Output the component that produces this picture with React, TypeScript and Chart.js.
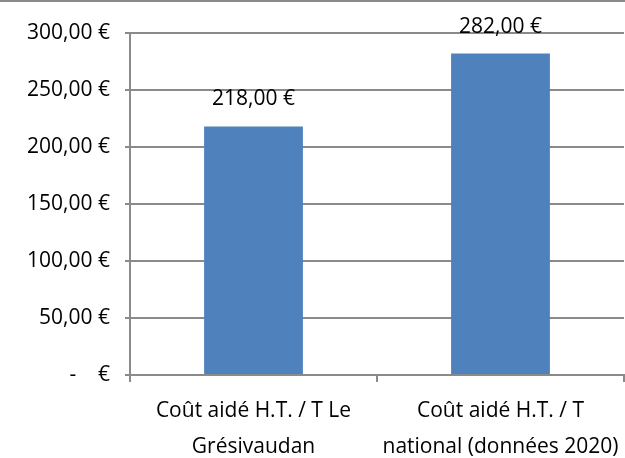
import React, { useEffect, useRef } from "react";
import { Chart, registerables } from "chart.js";

Chart.register(...registerables);

const categories: string[][] = [
  ["Coût aidé H.T. / T Le", "Grésivaudan"],
  ["Coût aidé H.T. / T", "national (données 2020)"],
];
const values: number[] = [218, 282];
const yTicks: number[] = [0, 50, 100, 150, 200, 250, 300];

const FONT = "'Open Sans', sans-serif";

const fmt = (v: number) =>
  v === 0 ? "-    €" : v.toFixed(2).replace(".", ",") + " €";

const extras = {
  id: "extras",
  afterDraw(chart: any) {
    const ctx = chart.ctx;
    ctx.save();
    ctx.strokeStyle = "#8a8a8a";
    ctx.lineWidth = 2;
    ctx.beginPath();
    ctx.moveTo(0, 1);
    ctx.lineTo(chart.width, 1);
    ctx.stroke();
    const meta = chart.getDatasetMeta(0);
    ctx.fillStyle = "#000";
    ctx.font = `21px ${FONT}`;
    ctx.textAlign = "center";
    ctx.textBaseline = "middle";
    meta.data.forEach((bar: any, i: number) => {
      ctx.fillText(fmt(values[i]), bar.x, bar.y - 27);
    });
    ctx.restore();
  },
};

export default function App() {
  const ref = useRef<HTMLCanvasElement>(null);
  useEffect(() => {
    document.body.style.margin = "0";
    const chart = new Chart(ref.current!, {
      type: "bar",
      data: {
        labels: categories,
        datasets: [
          {
            data: values,
            backgroundColor: "#4F81BD",
            categoryPercentage: 1,
            barPercentage: 0.4,
          },
        ],
      },
      options: {
        animation: false,
        responsive: false,
        layout: { padding: { top: 33, right: 1, left: 0, bottom: 0 } },
        plugins: { legend: { display: false }, tooltip: { enabled: false } },
        scales: {
          x: {
            afterFit: (s: any) => {
              s.height = 83;
              s.paddingLeft = 0;
              s.paddingRight = 0;
            },
            grid: {
              offset: true,
              drawOnChartArea: false,
              drawTicks: true,
              tickLength: 7,
              color: "#8a8a8a",
              lineWidth: 2,
            },
            border: { color: "#8a8a8a", width: 2 },
            ticks: {
              color: "#000",
              font: { family: FONT, size: 21, lineHeight: 1.7 },
              padding: 11,
              maxRotation: 0,
              autoSkip: false,
            },
          },
          y: {
            min: 0,
            max: 300,
            afterFit: (s: any) => {
              s.width = 130;
            },
            afterBuildTicks: (s: any) => {
              s.ticks = yTicks.map((v) => ({ value: v }));
            },
            grid: { color: "#8a8a8a", lineWidth: 2, tickLength: 5 },
            border: { color: "#8a8a8a", width: 2 },
            ticks: {
              color: "#000",
              font: { family: FONT, size: 21 },
              padding: 15,
              callback: (v: any) => fmt(Number(v)),
            },
          },
        },
      },
      plugins: [extras],
    });
    return () => chart.destroy();
  }, []);
  return <canvas ref={ref} width={625} height={458} style={{ display: "block" }} />;
}
